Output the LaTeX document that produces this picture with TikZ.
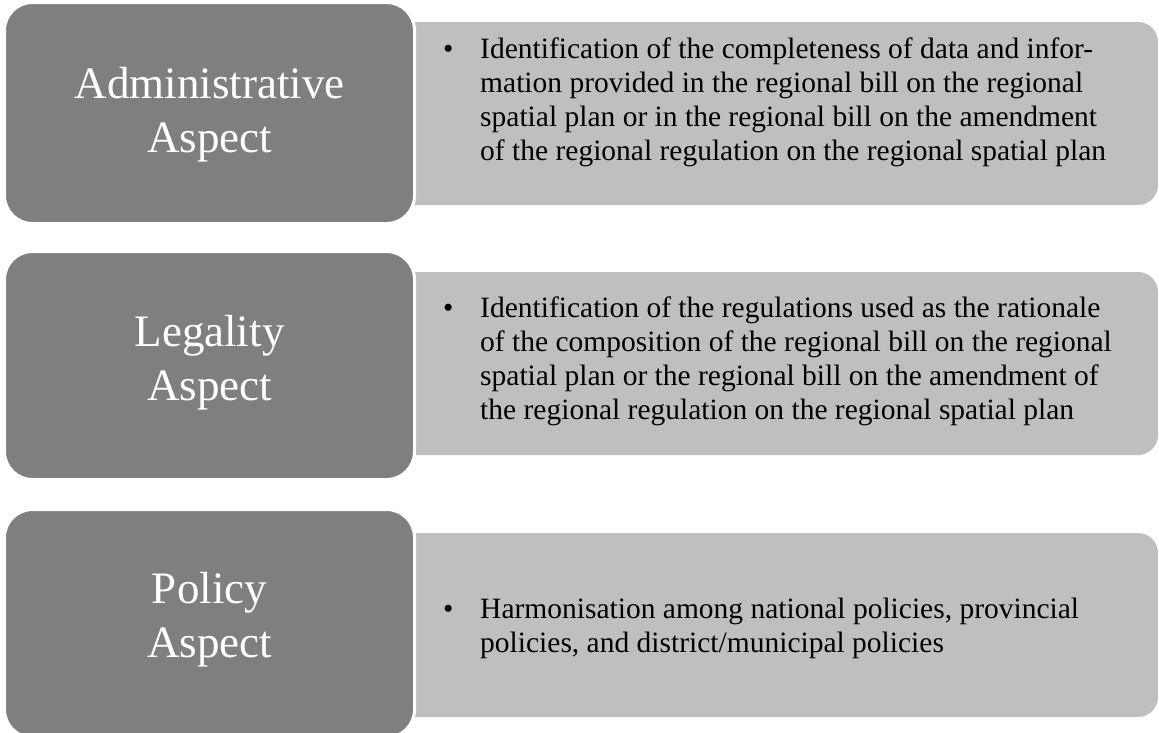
\documentclass[tikz,border=0pt]{standalone}
\usepackage{fontspec}
\setmainfont{Liberation Serif}
\definecolor{aspectgray}{HTML}{7F7F7F}
\definecolor{detailgray}{HTML}{BFBFBF}
\tikzset{
  aspectbox/.style={rectangle, rounded corners=28pt, fill=aspectgray, draw=white,
    line width=3pt, inner sep=0pt, minimum width=410pt},
  detailbox/.style={rectangle, rounded corners=20pt, fill=detailgray, draw=none,
    inner sep=0pt, minimum width=858pt},
  aspecttext/.style={anchor=base, inner sep=0pt, text=white,
    font=\fontsize{45}{54}\selectfont},
  bullettext/.style={anchor=base west, inner sep=0pt, text=black,
    font=\fontsize{29.5}{34.2}\selectfont},
}
\newcommand{\aspectlines}[1]{\begin{tabular}[t]{@{}c@{}}#1\end{tabular}}
\newcommand{\detaillines}[1]{\begin{tabular}[t]{@{}l@{}}#1\end{tabular}}

\begin{document}
\begin{tikzpicture}[x=1pt,y=-1pt]
\useasboundingbox (0,0) rectangle (1159,732);

% detail panels (drawn first, their left ends sit under the aspect boxes)
\node[detailbox, minimum height=183pt] (d1) at (729,113.5) {};
\node[detailbox, minimum height=183pt] (d2) at (729,363.5) {};
\node[detailbox, minimum height=184pt] (d3) at (729,625) {};

% aspect boxes
\node[aspectbox, minimum height=221pt] (a1) at (209.5,113) {};
\node[aspectbox, minimum height=228pt] (a2) at (209.5,365.5) {};
\node[aspectbox, minimum height=228pt] (a3) at (209.5,623.5) {};

% aspect titles
\node[aspecttext] (t1) at (209.5,98) {\aspectlines{Administrative\\Aspect}};
\node[aspecttext] (t2) at (209.5,346) {\aspectlines{Legality\\Aspect}};
\node[aspecttext] (t3) at (209.5,603) {\aspectlines{Policy\\Aspect}};

% bullets
\node[bullettext] (b1) at (443,58) {\textbullet};
\node[bullettext] (b2) at (443,317) {\textbullet};
\node[bullettext] (b3) at (443,618) {\textbullet};

% bullet texts
\node[bullettext] (p1) at (480,58) {\detaillines{%
  Identification of the completeness of data and infor-\\
  mation provided in the regional bill on the regional\\
  spatial plan or in the regional bill on the amendment\\
  of the regional regulation on the regional spatial plan}};
\node[bullettext] (p2) at (480,317) {\detaillines{%
  Identification of the regulations used as the rationale\\
  of the composition of the regional bill on the regional\\
  spatial plan or the regional bill on the amendment of\\
  the regional regulation on the regional spatial plan}};
\node[bullettext] (p3) at (480,618) {\detaillines{%
  Harmonisation among national policies, provincial\\
  policies, and district/municipal policies}};
\end{tikzpicture}
\end{document}
